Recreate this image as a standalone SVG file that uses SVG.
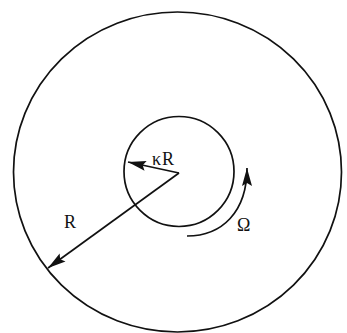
<svg xmlns="http://www.w3.org/2000/svg" width="347" height="333" viewBox="0 0 347 333">
<style>
.c{fill:none;stroke:#111;stroke-width:1.7}
.t{font-family:"Liberation Serif",serif;font-size:18px;fill:#111}
</style>
<defs>
<marker id="ah" markerWidth="20" markerHeight="12" refX="18" refY="6" orient="auto" markerUnits="userSpaceOnUse">
<path d="M0,1 L18,6 L0,11 L3,6 Z" fill="#111"/>
</marker>
</defs>
<rect width="347" height="333" fill="#fff"/>
<g id="outer"><ellipse class="c" cx="177.5" cy="172" rx="164" ry="160"/></g>
<g id="inner"><circle class="c" cx="179" cy="171.5" r="55"/></g>
<g id="connectors">
<line class="c" x1="179" y1="173" x2="128" y2="162" marker-end="url(#ah)"/>
<line class="c" x1="179" y1="173" x2="48" y2="268" marker-end="url(#ah)"/>
<path class="c" d="M187,236 C222,236 247,212 247,168" marker-end="url(#ah)"/>
</g>
<g id="labels">
<text class="t" x="152" y="165">κ<tspan dx="1">R</tspan></text>
<text class="t" x="64" y="228">R</text>
<text class="t" x="237" y="231">Ω</text>
</g>
</svg>
